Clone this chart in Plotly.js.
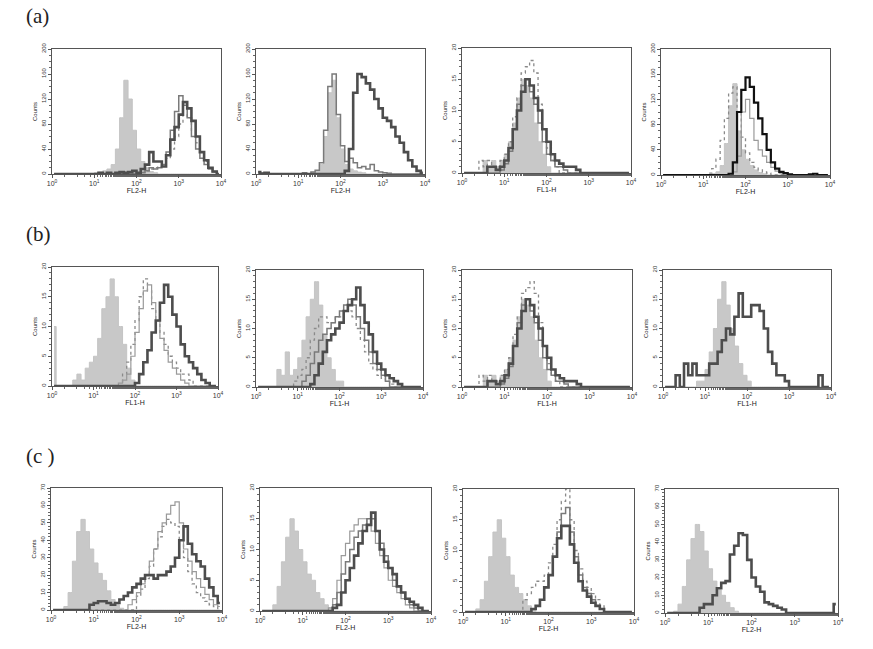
<!DOCTYPE html>
<html><head><meta charset="utf-8">
<script src="https://cdn.plot.ly/plotly-3.0.1.min.js"></script>
<style>html,body{margin:0;padding:0;background:#fff}</style>
</head><body><div id="chart" style="width:873px;height:649px"></div>
<script>
// log10 bin centres shared by all histograms
const BIN_LOG = [0.05,0.15,0.25,0.35,0.45,0.55,0.65,0.75,0.85,0.95,
1.05,1.15,1.25,1.35,1.45,1.55,1.65,1.75,1.85,1.95,
2.05,2.15,2.25,2.35,2.45,2.55,2.65,2.75,2.85,2.95,
3.05,3.15,3.25,3.35,3.45,3.55,3.65,3.75,3.85,3.95];
const X_TICK_VALS = [1,10,100,1000,10000];
const X_TICK_TEXT = ['10<sup>0</sup>','10<sup>1</sup>','10<sup>2</sup>','10<sup>3</sup>','10<sup>4</sup>'];
const ROW_LABELS = ['(a)','(b)','(c )'];
const X_TITLES = ['FL2-H','FL2-H','FL1-H','FL2-H','FL1-H','FL1-H','FL1-H','FL1-H','FL2-H','FL2-H','FL2-H','FL2-H'];
const Y_MAX = [200,200,20,200,20,20,20,20,70,20,20,70];
const Y_TITLE = 'Counts';

// ---- row (a) ----
const a1_ctrl=[0,0,0,0,0,0,0,0,0,0, 2,3,5,8,15,40,90,150,120,70, 40,20,10,4,2,0,0,0,0,0, 0,0,0,0,0,0,0,0,0,0];
const a1_dot =[0,0,0,0,0,0,0,0,0,0, 0,0,0,0,0,0,0,0,0,0, 0,3,5,8,10,12,15,25,40,60, 80,95,90,70,50,35,20,10,4,0];
const a1_mid =[0,0,0,0,0,0,0,0,0,0, 0,0,0,0,0,0,0,0,0,0, 0,2,5,10,8,10,15,35,70,100, 125,110,90,60,40,25,15,8,3,0];
const a1_dark=[0,0,0,0,0,0,0,0,0,0, 0,2,0,2,0,2,3,2,3,5, 2,8,15,35,20,20,12,30,55,75, 95,115,105,85,60,35,22,10,4,0];

const a2_ctrl=[0,0,0,0,0,0,0,0,0,0, 0,0,0,2,5,15,60,130,150,90, 40,15,8,5,3,2,0,0,0,0, 0,0,0,0,0,0,0,0,0,0];
const a2_mid =[0,2,0,0,0,0,0,0,0,0, 0,2,0,3,6,18,70,140,160,95, 45,20,25,18,10,12,8,15,5,3, 2,1,0,0,0,0,0,0,0,0];
const a2_dark=[3,0,2,0,0,0,0,0,0,0, 0,0,0,0,0,0,0,0,0,0, 0,5,40,130,160,155,145,135,120,105, 90,85,75,60,50,35,22,12,5,2];

const a3_ctrl=[0,0,0,0,0,2,1,2,1,2, 3,5,8,12,15,14,12,8,5,3, 1,0,0,0,0,0,0,0,0,0, 0,0,0,0,0,0,0,0,0,0];
const a3_dot =[0,0,0,0,2,1,2,1,1,2, 3,5,9,12,16,17,18,16,11,7, 4,2,1,0,0,0,0,0,0,0, 0,0,0,0,0,0,0,0,0,0];
const a3_mid =[0,0,0,0,0,0,0,0,0,0.5, 1.5,3.5,7,11,14,15,13,11,8,5, 3,2,1,1,0.5,0,0,0,0,0, 0,0,0,0,0,0,0,0,0,0];
const a3_dark=[0,0,0,0,0,0,1,1,0.5,1, 2,4,7,10,13,15,14,12,10,7, 5,3,2,1.5,1,1,1,0.5,0,0, 0,0,0,0,0,0,0,0,0,0];

const a4_ctrl =[0,0,0,0,0,0,0,0,0,0, 0,0,2,5,15,50,110,145,70,40, 25,15,8,4,2,0,0,0,0,0, 0,0,0,0,0,0,0,0,0,0];
const a4_dot  =[0,0,0,0,0,0,0,0,0,0, 0,3,10,25,55,90,130,140,100,60, 35,20,12,8,5,3,0,0,0,0, 0,0,0,0,0,0,0,0,0,0];
const a4_mid  =[0,0,0,0,0,0,0,0,0,0, 0,0,0,0,0,0,0,5,30,100, 120,90,55,40,30,20,12,6,3,0, 0,0,0,0,0,0,0,0,0,0];
const a4_black=[0,0,0,0,0,0,0,0,0,0, 0,0,0,0,0,0,2,20,100,135, 155,140,115,90,65,40,20,10,5,3, 1,0,0,0,0,1,2,0,0,0];

// ---- row (b) ----
const b1_ctrl=[10,0,0,0,0,1,2,1,3,4, 5,8,13,15,18,15,10,7,3,1, 0,0,0,0,0,0,0,0,0,0, 0,0,0,0,0,0,0,0,0,0];
const b1_dot =[0,0,0,0,0,0,0,0,0,0, 0,0,0,0,0,0,0,2,4,7, 11,15,18,16,13,11,9,7,5,4, 3,2,2,1,0,0,0,0,0,0];
const b1_mid =[0,0,0,0,0,0,0,0,0,0, 0,0,0,0,0,0,0.5,1,2,5, 9,13,16,17,14,11,8,6,4,3, 2,1,0.5,0,0,0,0,0,0,0];
const b1_dark=[0,0,0,0,0,0,0,0,0,0, 0,0,0,0,0,0,0,0,0,0, 0.5,2,4,6,9,11,14,17,15,12, 10,7,5,4,3,2,1,0.5,0,0];

const b2_ctrl=[0,0,0,0,0,3,2,6,2,3, 5,8,12,15,18,14,9,5,3,1, 1,0,0,0,0,0,0,0,0,0, 0,0,0,0,0,0,0,0,0,0];
const b2_dot =[0,0,0,0,0,0,0,0,0,1, 2,3,5,8,10,12,12,11,11,12, 12,13,13,12,10,8,6,4,3,2, 1.5,1,0.5,0,0,0,0,0,0,0];
const b2_mid =[0,0,0,0,0,0,0,0,0,0, 0,1,2,4,6,8,9,10,11,12, 13,14,15,14,12,10,8,6,4,3, 2,1,0,0,0,0,0,0,0,0];
const b2_dark=[0,0,0,0,0,0,0,0,0,0, 0,0,0,0.5,2,4,6,8,9,10, 11,13,14,15,17,14,11,9,6,4, 3,2,1.5,1,0.5,0,0,0,0,0];

const b4_ctrl=[0,0,0,0,0,0,0,0,1,1, 3,6,10,15,18,14,10,7,4,2, 1,0,0,0,0,0,0,0,0,0, 0,0,0,0,0,0,0,0,0,0];
const b4_dark=[0,0,0,2,0,4,2,4,2,2, 2,4,4,6,8,10,9,12,16,12, 12,14,14,13,10,6,4,2,2,1, 0,0,0,0,0,0,0,2,0,0];

// ---- row (c) ----
const c1_ctrl =[0,0,0,2,10,28,45,52,45,35, 27,21,17,11,6,3,1,0,0,0, 0,0,0,0,0,0,0,0,0,0, 0,0,0,0,0,0,0,0,0,0];
const c1_dot  =[0,0,0,0,0,0,0,0,0,0, 0,0,0,0,0,0,0,0,0,0, 8,12,18,25,35,42,48,52,50,48, 40,30,22,15,10,7,5,3,2,0];
const c1_light=[0,0,0,0,0,0,0,0,0,0, 0,0,0,0,0,0,0,0,3,6, 10,15,20,28,35,45,50,55,60,62, 50,35,28,22,18,13,9,6,3,2];
const c1_dark =[0,0,0,0,0,0,0,0,0,3, 4,5,5,4,3,4,6,8,10,13, 15,18,20,20,18,20,20,22,25,30, 40,48,38,32,28,25,18,13,8,4];

const c2_ctrl=[0,0,0,1,4,8,12,15,13,10, 8,6,5,3,2,1,0.5,0,0,0, 0,0,0,0,0,0,0,0,0,0, 0,0,0,0,0,0,0,0,0,0];
const c2_thin=[0,0,0,0,0,0,0,0,0,0, 0,0,0,0,0,0,0.5,2,5,9, 11,13,14,15,15,14,13,11,9,7, 5,4,3,2,1,0.5,0,0,0,0];
const c2_mid =[0,0,0,0,0,0,0,0,0,0, 0,0,0,0,0,0,0,1,3,6, 8,10,12,13,14,15,15,13,11,9, 7,5,4,3,2,1,0.5,0,0,0];
const c2_dark=[0,0,0,0,0,0,0,0,0,0, 0,0,0,0,0,0,0,0.5,1,3, 5,7,9,11,13,14,16,13,10,8, 7,6,4,3,2,1.5,1,0.5,0,0];

const c3_ctrl=[0,0,0,0.5,2,5,9,13,15,12, 9,6,4,3,2,1,0.5,0,0,0, 0,0,0,0,0,0,0,0,0,0, 0,0,0,0,0,0,0,0,0,0];
const c3_dot =[0,0,0,0,0,0,0,0,0,0, 0,0,0,0,2,3,4,5,5,6, 8,11,15,18,20,15,10,7,5,4, 3,2,1,0,0,0,0,0,0,0];
const c3_mid =[0,0,0,0,0,0,0,0,0,0, 0,0,0,0,0,0,0.5,1,2,4, 6,9,13,16,17,13,9,6,4,3, 2,1,0.5,0,0,0,0,0,0,0];
const c3_dark=[0,0,0,0,0,0,0,0,0,0, 0,0,0,0,0,0,0.5,1,2,4, 6,9,12,14,14,11,8,5,3.5,2.5, 1.5,1,0.5,0,0,0,0,0,0,0];

const c4_ctrl=[0,0,1,5,15,30,42,50,46,35, 25,18,13,10,6,3,1,0,0,0, 0,0,0,0,0,0,0,0,0,0, 0,0,0,0,0,0,0,0,0,0];
const c4_dark=[0,0,0,0,0,0,0,0,3,5, 5,10,14,17,18,33,38,45,44,30, 20,15,12,6,5,4,3,2,0,0, 0,0,0,0,0,0,0,0,0,5];

// series per panel: [values, style]
const PANELS = [
  [[a1_ctrl,'fill'],[a1_dot,'dot'],[a1_mid,'mid'],[a1_dark,'dark']],
  [[a2_ctrl,'fill'],[a2_mid,'mid'],[a2_dark,'dark']],
  [[a3_ctrl,'fill'],[a3_dot,'dot'],[a3_mid,'mid'],[a3_dark,'dark']],
  [[a4_ctrl,'fill'],[a4_dot,'dot'],[a4_mid,'light'],[a4_black,'black']],
  [[b1_ctrl,'fill'],[b1_dot,'dot'],[b1_mid,'light'],[b1_dark,'dark']],
  [[b2_ctrl,'fill'],[b2_dot,'dot'],[b2_mid,'mid'],[b2_dark,'dark']],
  [[a3_ctrl,'fill'],[a3_dot,'dot'],[a3_mid,'mid'],[a3_dark,'dark']],
  [[b4_ctrl,'fill'],[b4_dark,'dark']],
  [[c1_ctrl,'fill'],[c1_dot,'dot'],[c1_light,'light'],[c1_dark,'dark']],
  [[c2_ctrl,'fill'],[c2_thin,'light'],[c2_mid,'mid'],[c2_dark,'dark']],
  [[c3_ctrl,'fill'],[c3_dot,'dot'],[c3_mid,'mid'],[c3_dark,'dark']],
  [[c4_ctrl,'fill'],[c4_dark,'dark']]
];

// layout boxes in pixels [x0,x1,y0,y1]
const BOX = [
  [52,221,49,174],[256,425,49,174],[462,631,48,173],[661,830,49,175],
  [52,218,267,386],[256,423,270,387],[462,632,270,387],[663,831,270,387],
  [51,222,488,610],[260,431,488,611],[463,634,489,612],[665,838,489,613]
];
const W=873,H=649;
const STYLE = {
  fill: {line:{color:'#c4c4c4',width:1,shape:'hvh'}, fill:'tozeroy', fillcolor:'#c8c8c8'},
  dot:  {line:{color:'#8a8a8a',width:1.3,dash:'dot',shape:'hvh'}},
  light:{line:{color:'#9a9a9a',width:1.2,shape:'hvh'}},
  mid:  {line:{color:'#7a7a7a',width:1.5,shape:'hvh'}},
  dark: {line:{color:'#4d4d4d',width:2.6,shape:'hvh'}},
  black:{line:{color:'#111',width:2.2,shape:'hvh'}}
};
const xs = BIN_LOG.map(v=>Math.pow(10,v));
const traces=[]; const layout={width:W,height:H,margin:{l:0,r:0,t:0,b:0},showlegend:false,
  paper_bgcolor:'#fff',plot_bgcolor:'#fff',font:{family:'Arial, Liberation Sans, sans-serif',color:'#333'},annotations:[]};

PANELS.forEach((series,k)=>{
  const n=k+1, b=BOX[k], ym=Y_MAX[k];
  series.forEach(([vals,st])=>{
    traces.push(Object.assign({type:'scatter',mode:'lines',x:xs,y:vals,xaxis:'x'+n,yaxis:'y'+n,hoverinfo:'skip'},
      JSON.parse(JSON.stringify(STYLE[st]))));
  });
  const dt = ym===200?40:(ym===70?10:5);
  const mdt = ym===200?10:(ym===70?2:1);
  layout['xaxis'+n]={type:'log',range:[0,4],domain:[b[0]/W,b[1]/W],anchor:'y'+n,
    showline:true,mirror:true,linecolor:'#555',linewidth:1,showgrid:false,zeroline:false,
    ticks:'outside',ticklen:3,tickcolor:'#555',tickvals:X_TICK_VALS,ticktext:X_TICK_TEXT,
    tickfont:{size:7,color:'#333'},
    minor:{ticks:'outside',ticklen:2,tickcolor:'#666',showgrid:false},
    title:{text:X_TITLES[k],font:{size:7,color:'#222'},standoff:1}};
  layout['yaxis'+n]={range:[0,ym],domain:[1-b[3]/H,1-b[2]/H],anchor:'x'+n,
    showline:true,mirror:true,linecolor:'#555',linewidth:1,showgrid:false,zeroline:false,
    ticks:'outside',ticklen:3,tickcolor:'#555',dtick:dt,tick0:0,tickangle:-90,
    tickfont:{size:6,color:'#333'},
    minor:{ticks:'outside',ticklen:2,tickcolor:'#666',dtick:mdt,showgrid:false},
    title:{text:Y_TITLE,font:{size:6,color:'#222'},standoff:2}};
});
const LABEL_Y=[16,234,456];
ROW_LABELS.forEach((t,i)=>layout.annotations.push({text:t,xref:'paper',yref:'paper',x:24/W,y:1-LABEL_Y[i]/H,
  xanchor:'left',yanchor:'middle',showarrow:false,font:{family:'Liberation Serif, DejaVu Serif, serif',size:21,color:'#222'}}));
Plotly.newPlot('chart',traces,layout,{staticPlot:true,displayModeBar:false});
</script></body></html>
